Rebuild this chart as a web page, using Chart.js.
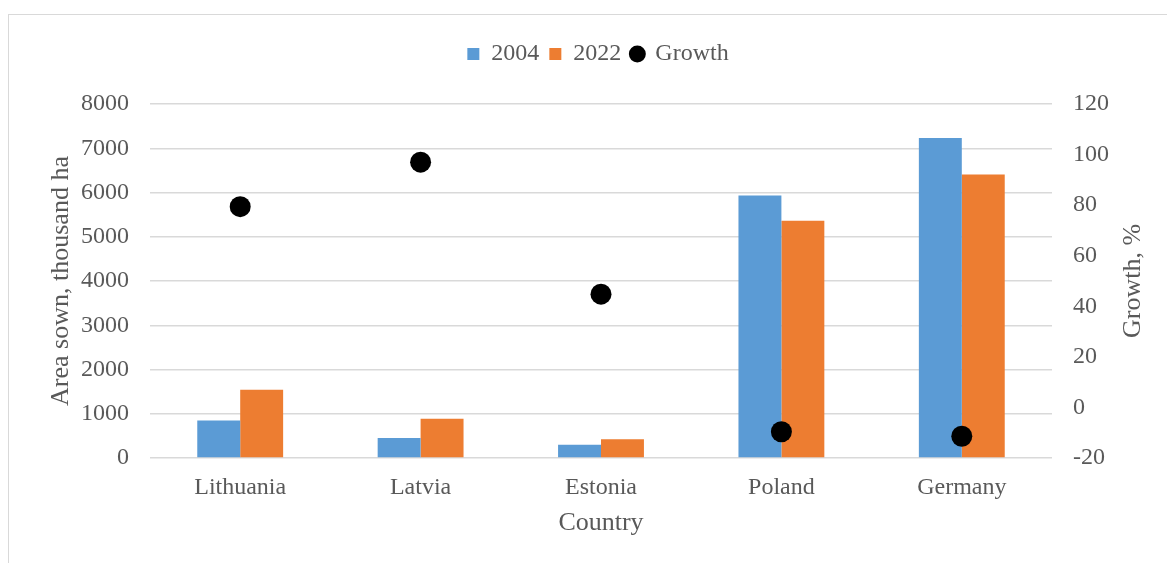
<!DOCTYPE html>
<html>
<head>
<meta charset="utf-8">
<script src="https://cdn.jsdelivr.net/npm/chart.js@4.4.0/dist/chart.umd.min.js"></script>
<style>
  html, body { margin: 0; padding: 0; background: #fff; }
  #wrap { position: relative; width: 1167px; height: 563px; overflow: hidden; }
  #frame { position: absolute; left: 8px; top: 14px; width: 1200px; height: 600px;
           border-left: 1px solid #d9d9d9; border-top: 1px solid #d9d9d9; }
  #chart { position: absolute; left: 0; top: 0; }
</style>
</head>
<body>
<div id="wrap">
  <div id="frame"></div>
  <canvas id="chart" width="1167" height="563"></canvas>
</div>
<script>
const countries = ['Lithuania', 'Latvia', 'Estonia', 'Poland', 'Germany'];
const area2004 = [850, 450, 302, 5932, 7230];
const area2022 = [1540, 887, 421, 5360, 6405];
const growth = [79.4, 97.0, 44.8, -9.6, -11.4];

const textColor = '#595959';
const serif = '"Liberation Serif", "Times New Roman", serif';

// extra room under the legend
const legendSpace = {
    id: 'legendSpace',
    beforeInit(chart) {
        const fit = chart.legend.fit;
        chart.legend.fit = function () {
            fit.bind(chart.legend)();
            this.height += 28;
        };
    }
};

// right axis title, read bottom-to-top like the left one
const rightTitle = {
    id: 'rightTitle',
    afterDraw(chart) {
        const s = chart.scales.y1;
        const ctx = chart.ctx;
        ctx.save();
        ctx.translate(s.right - 21, (chart.chartArea.top + chart.chartArea.bottom) / 2);
        ctx.rotate(-Math.PI / 2);
        ctx.fillStyle = textColor;
        ctx.font = '26px ' + serif;
        ctx.textAlign = 'center';
        ctx.textBaseline = 'middle';
        ctx.fillText('Growth, %', 0, 0);
        ctx.restore();
    }
};

new Chart(document.getElementById('chart').getContext('2d'), {
    type: 'bar',
    data: {
        labels: countries,
        datasets: [
            {
                type: 'line',
                label: 'Growth',
                data: growth,
                yAxisID: 'y1',
                showLine: false,
                pointStyle: 'circle',
                pointRadius: 10.5,
                pointHoverRadius: 10.5,
                backgroundColor: '#000',
                borderColor: '#000',
                borderWidth: 0,
                order: 0
            },
            {
                label: '2004',
                data: area2004,
                backgroundColor: '#5B9BD5',
                pointStyle: 'rect',
                yAxisID: 'y',
                order: 1
            },
            {
                label: '2022',
                data: area2022,
                backgroundColor: '#ED7D31',
                pointStyle: 'rect',
                yAxisID: 'y',
                order: 2
            }
        ]
    },
    options: {
        responsive: false,
        animation: false,
        layout: { padding: { top: 32, left: 42, right: 13, bottom: 24 } },
        datasets: {
            bar: { categoryPercentage: 0.476, barPercentage: 1.0 }
        },
        plugins: {
            legend: {
                position: 'top',
                labels: {
                    color: textColor,
                    font: { family: serif, size: 24 },
                    usePointStyle: true,
                    boxWidth: 12,
                    boxHeight: 12,
                    padding: 10,
                    sort: (a, b) => {
                        const order = ['2004', '2022', 'Growth'];
                        return order.indexOf(a.text) - order.indexOf(b.text);
                    }
                }
            },
            tooltip: { enabled: false }
        },
        scales: {
            x: {
                grid: { display: false, drawTicks: false },
                border: { display: false },
                ticks: { color: textColor, font: { family: serif, size: 24 }, padding: 15 },
                title: {
                    display: true, text: 'Country', color: textColor,
                    font: { family: serif, size: 26 }, padding: { top: 0, bottom: 0 }
                },
                afterFit(scale) { scale.height = 81; }
            },
            y: {
                position: 'left',
                min: 0, max: 8000,
                ticks: {
                    stepSize: 1000, color: textColor, font: { family: serif, size: 24 }, padding: 21,
                    callback: v => String(v)
                },
                grid: { color: '#d9d9d9', lineWidth: 1.5, drawTicks: false },
                border: { display: false },
                title: {
                    display: true, text: 'Area sown, thousand ha', color: textColor,
                    font: { family: serif, size: 26 }
                },
                afterFit(scale) { scale.width = 108; }
            },
            y1: {
                position: 'right',
                min: -20, max: 120,
                ticks: {
                    stepSize: 20, color: textColor, font: { family: serif, size: 24 }, padding: 21,
                    callback: v => String(v)
                },
                grid: { display: false, drawTicks: false },
                border: { display: false },
                title: { display: false },
                afterFit(scale) { scale.width = 102; }
            }
        }
    },
    plugins: [legendSpace, rightTitle]
});
</script>
</body>
</html>
